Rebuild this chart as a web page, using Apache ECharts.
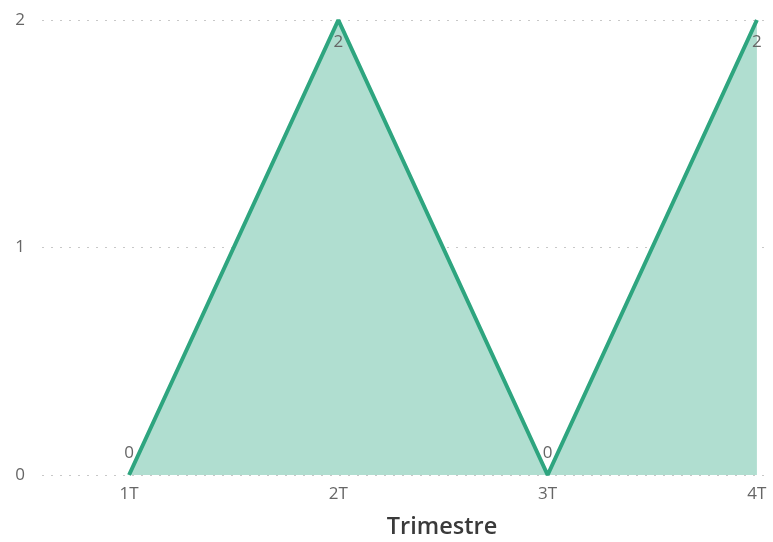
<!DOCTYPE html>
<html><head><meta charset="utf-8">
<script src="https://cdn.jsdelivr.net/npm/echarts@6/dist/echarts.min.js"></script>
<style>html,body{margin:0;padding:0;background:#fff}#c{width:773px;height:542px}</style>
</head><body><div id="c"></div>
<script>
const categories = ['1T', '2T', '3T', '4T'];
const values = [0, 2, 0, 2];
const yTicks = [0, 1, 2];
const axisTitle = 'Trimestre';

const chart = echarts.init(document.getElementById('c'));
const data = values.map((v, i) => ({
  value: [i, v],
  label: v === 0 ? { position: 'top', offset: [0, -8] } : { position: 'bottom', offset: [0, 8] }
}));
chart.setOption({
  animation: false,
  title: {
    text: axisTitle, left: 437, top: 510, textAlign: 'center',
    textStyle: { fontFamily: 'Open Sans', fontSize: 23.5, fontWeight: 600, color: '#3a3a3a' }
  },
  grid: { left: 42, right: 5, top: 20, bottom: 67 },
  xAxis: {
    type: 'value', min: -0.416, max: 3.053,
    axisLine: { show: false }, axisTick: { show: false }, splitLine: { show: false },
    axisLabel: {
      customValues: categories.map((c, i) => i),
      margin: 11, color: '#666', fontFamily: 'Open Sans', fontSize: 17,
      formatter: v => categories[Math.round(v)]
    }
  },
  yAxis: {
    type: 'value', min: yTicks[0], max: yTicks[yTicks.length - 1], interval: 1,
    axisLine: { show: false }, axisTick: { show: false },
    splitLine: { show: true, lineStyle: { type: [2, 7], color: '#c8c8c8', width: 1 } },
    axisLabel: { margin: 17, color: '#666', fontFamily: 'Open Sans', fontSize: 17 }
  },
  series: [{
    type: 'line', data: data, symbol: 'circle', symbolSize: 1, showSymbol: true,
    itemStyle: { color: 'rgba(0,0,0,0)' },
    lineStyle: { color: '#2ea57f', width: 4 },
    areaStyle: { color: '#b0ded0', opacity: 1 },
    label: { show: true, color: '#666', fontFamily: 'Open Sans', fontSize: 17, formatter: p => p.value[1] }
  }]
});
</script></body></html>
